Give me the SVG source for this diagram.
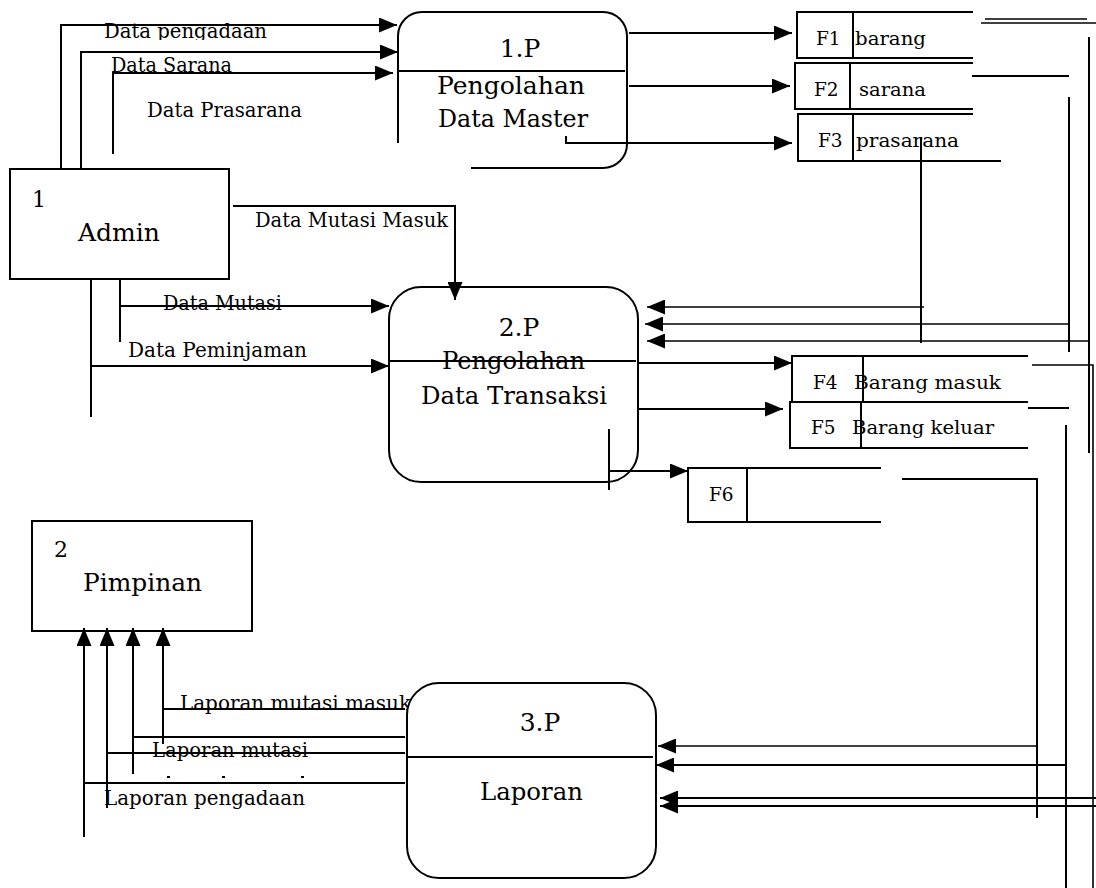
<svg xmlns="http://www.w3.org/2000/svg" width="1096" height="888" viewBox="0 0 1096 888">
<style>
text{font-family:"DejaVu Serif","Liberation Serif",serif;fill:#000}
.lbl{font-size:19.5px}
.lp{font-size:20px}
.big{font-size:25px}
.st{font-size:18.5px}
.num{font-size:22px}
.ln{fill:none;stroke:#000;stroke-width:2}
.thin{fill:none;stroke:#000;stroke-width:1.6}
.box{fill:none;stroke:#000;stroke-width:2}
.arr{marker-end:url(#ah)}
</style>
<defs>
<marker id="ah" markerWidth="18" markerHeight="15" refX="18" refY="7.5" orient="auto" markerUnits="userSpaceOnUse"><path d="M0,0 L18,7.5 L0,15 z" fill="#000"/></marker>
<clipPath id="c1"><rect x="0" y="0" width="400" height="40"/></clipPath>
</defs>
<g id="labels">
<text class="lbl" x="104" y="38" textLength="163" lengthAdjust="spacingAndGlyphs" clip-path="url(#c1)">Data pengadaan</text>
<text class="lbl" x="111" y="72" textLength="121" lengthAdjust="spacingAndGlyphs">Data Sarana</text>
<text class="lbl" x="147" y="117" textLength="155" lengthAdjust="spacingAndGlyphs">Data Prasarana</text>
<text class="lbl" x="255" y="227" textLength="193" lengthAdjust="spacingAndGlyphs">Data Mutasi Masuk</text>
<text class="lbl" x="163" y="310" textLength="119" lengthAdjust="spacingAndGlyphs">Data Mutasi</text>
<text class="lbl" x="128" y="357" textLength="179" lengthAdjust="spacingAndGlyphs">Data Peminjaman</text>
<text class="lp" x="180" y="710" textLength="231" lengthAdjust="spacingAndGlyphs">Laporan mutasi masuk</text>
<text class="lp" x="152" y="757" textLength="156" lengthAdjust="spacingAndGlyphs">Laporan mutasi</text>
<text class="lp" x="104" y="805" textLength="201" lengthAdjust="spacingAndGlyphs">Laporan pengadaan</text>
<rect x="167" y="776" width="3" height="2" fill="#000"/>
<rect x="222" y="776" width="3" height="2" fill="#000"/>
<rect x="301" y="776" width="3" height="2" fill="#000"/>
</g>
<g id="connectors">
<path class="ln arr" d="M61,169 V25 H397"/>
<path class="ln arr" d="M81,169 V52 H398"/>
<path class="ln arr" d="M113,154 V73 H393"/>
<path class="ln arr" d="M629,33 H792"/>
<path class="ln arr" d="M629,86 H790"/>
<path class="ln arr" d="M566,136 V143 H792"/>
<path class="ln arr" d="M233,206 H455 V300"/>
<path class="ln" d="M120,279 V342"/>
<path class="ln arr" d="M120,306 H389"/>
<path class="ln" d="M91,279 V417"/>
<path class="ln arr" d="M91,366 H389"/>
<path class="ln" d="M921,137 V343"/>
<path class="thin arr" d="M924,307 H647"/>
<path class="ln" d="M972,76 H1069"/>
<path class="ln" d="M1069,97 V352"/>
<path class="thin arr" d="M1069,324 H645"/>
<path class="thin" d="M985,19 H1087"/>
<path class="thin" d="M981,23 H1096"/>
<path class="ln" d="M1089,37 V453"/>
<path class="thin arr" d="M1089,341 H647"/>
<path class="ln arr" d="M638,363 H792"/>
<path class="ln arr" d="M638,409 H783"/>
<path class="ln" d="M609,429 V490"/>
<path class="ln arr" d="M609,471 H688"/>
<path class="thin" d="M1032,365 H1093 V888"/>
<path class="ln" d="M1028,408 H1069"/>
<path class="ln" d="M1066,425 V888"/>
<path class="ln" d="M902,479 H1037 V818"/>
<path class="thin arr" d="M1037,746 H658"/>
<path class="ln arr" d="M1066,765 H656"/>
<path class="ln arr" d="M1096,798 H660"/>
<path class="ln arr" d="M1096,806 H660"/>
<path class="ln arr" d="M84,837 V628"/>
<path class="ln arr" d="M107,808 V628"/>
<path class="ln arr" d="M133,774 V628"/>
<path class="ln arr" d="M163,744 V628"/>
<path class="ln" d="M84,783 H405"/>
<path class="ln" d="M107,753 H405"/>
<path class="ln" d="M133,737 H405"/>
<path class="ln" d="M163,709 H405"/>
</g>
<g id="admin">
<rect class="box" x="10" y="169" width="219" height="110"/>
<text class="num" x="32" y="207">1</text>
<text class="big" x="78" y="241" textLength="82" lengthAdjust="spacingAndGlyphs">Admin</text>
</g>
<g id="pimpinan">
<rect class="box" x="32" y="521" width="220" height="110"/>
<text class="num" x="54" y="557">2</text>
<text class="big" x="83" y="591" textLength="119" lengthAdjust="spacingAndGlyphs">Pimpinan</text>
</g>
<g id="p1">
<path class="box" d="M398,143 V36 A24,24 0 0 1 422,12 H603 A24,24 0 0 1 627,36 V144 A24,24 0 0 1 603,168 H471"/>
<path class="ln" d="M398,71 H625"/>
<text class="big" x="520" y="57" text-anchor="middle">1.P</text>
<text class="big" x="437" y="94" textLength="148" lengthAdjust="spacingAndGlyphs">Pengolahan</text>
<text class="big" x="438" y="127" textLength="150" lengthAdjust="spacingAndGlyphs">Data Master</text>
</g>
<g id="p2">
<rect class="box" x="389" y="287" width="249" height="195" rx="32"/>
<path class="ln" d="M389,361 H636"/>
<text class="big" x="519" y="336" text-anchor="middle">2.P</text>
<text class="big" x="442" y="369" textLength="143" lengthAdjust="spacingAndGlyphs">Pengolahan</text>
<text class="big" x="421" y="404" textLength="186" lengthAdjust="spacingAndGlyphs">Data Transaksi</text>
</g>
<g id="p3">
<rect class="box" x="407" y="683" width="249" height="195" rx="32" style="fill:#fff"/>
<path class="ln" d="M407,757 H653"/>
<text class="big" x="540" y="731" text-anchor="middle">3.P</text>
<text class="big" x="480" y="800" textLength="103" lengthAdjust="spacingAndGlyphs">Laporan</text>
</g>
<g id="f1">
<path class="box" d="M973,12 H797 V58 H973 M853,12 V58"/>
<text class="st" x="816" y="45">F1</text>
<text class="st" x="855" y="45" textLength="71" lengthAdjust="spacingAndGlyphs">barang</text>
</g>
<g id="f2">
<path class="box" d="M973,63 H795 V109 H973 M850,63 V109"/>
<text class="st" x="814" y="96">F2</text>
<text class="st" x="859" y="96" textLength="67" lengthAdjust="spacingAndGlyphs">sarana</text>
</g>
<g id="f3">
<path class="box" d="M973,114 H798 V161 H1001 M853,114 V161"/>
<text class="st" x="818" y="147">F3</text>
<text class="st" x="856" y="147" textLength="103" lengthAdjust="spacingAndGlyphs">prasarana</text>
</g>
<g id="f4">
<path class="box" d="M1028,356 H792 V402 H1028 M863,356 V402"/>
<text class="st" x="813" y="389">F4</text>
<text class="st" x="854" y="389" textLength="147" lengthAdjust="spacingAndGlyphs">Barang masuk</text>
</g>
<g id="f5">
<path class="box" d="M1028,402 H790 V448 H1028 M861,402 V448"/>
<text class="st" x="811" y="434">F5</text>
<text class="st" x="852" y="434" textLength="142" lengthAdjust="spacingAndGlyphs">Barang keluar</text>
</g>
<g id="f6">
<path class="box" d="M881,468 H688 V522 H881 M747,468 V522"/>
<text class="st" x="709" y="501">F6</text>
</g>
</svg>
